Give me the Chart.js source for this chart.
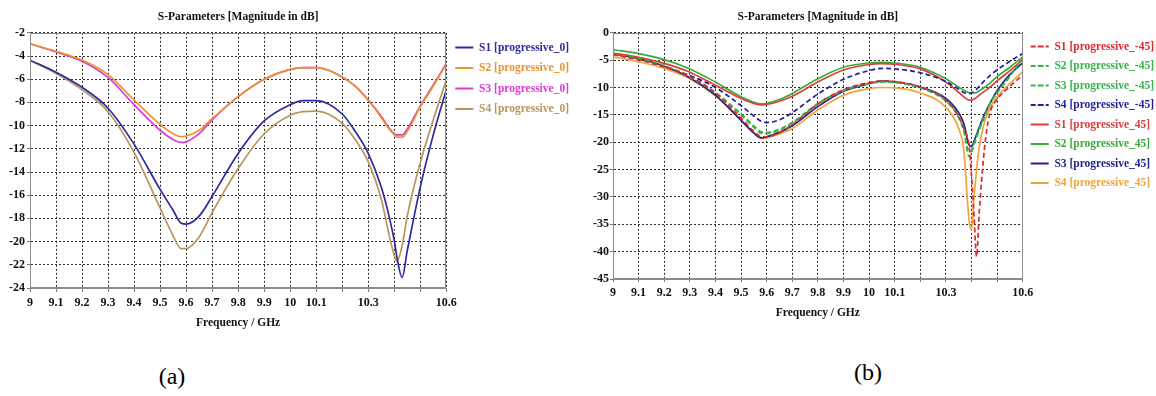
<!DOCTYPE html>
<html>
<head>
<meta charset="utf-8">
<script src="https://cdn.jsdelivr.net/npm/chart.js@4.4.0/dist/chart.umd.min.js"></script>
<style>
  body { margin: 0; width: 1156px; height: 396px; overflow: hidden; background: #fff; position: relative; }
  canvas { position: absolute; top: 0; }
  #chartA { left: 0; }
  #chartB { left: 580px; }
  .cap { position: absolute; font-family: "Liberation Serif", "Times New Roman", serif; font-size: 24px; color: #000; transform: translate(-50%, -50%); }
</style>
</head>
<body>
<canvas id="chartA" width="580" height="340"></canvas>
<canvas id="chartB" width="584" height="329"></canvas>
<div class="cap" style="left:172px; top:376px;">(a)</div>
<div class="cap" style="left:868px; top:372px;">(b)</div>
<script>
// ---- data (a): progressive_0 ----
const freqA = [9, 9.1, 9.2, 9.3, 9.4, 9.5, 9.55, 9.58, 9.6, 9.65, 9.7, 9.8, 9.9, 10, 10.05, 10.1, 10.2, 10.25, 10.3, 10.35, 10.38, 10.4, 10.41, 10.43, 10.45, 10.5, 10.55, 10.6];
const s1_p0 = [-4.36, -5.4, -6.7, -8.5, -11.6, -15.5, -17.3, -18.4, -18.5, -17.8, -16.1, -12.4, -9.6, -8.2, -7.85, -7.85, -9.0, -10.5, -12.4, -15.3, -17.8, -19.9, -21.3, -23.1, -20.8, -15.3, -10.8, -6.9];
const s2_p0 = [-2.95, -3.6, -4.35, -5.6, -7.8, -9.9, -10.7, -10.95, -10.9, -10.4, -9.4, -7.5, -6.0, -5.15, -5.0, -5.0, -5.8, -6.6, -7.8, -9.3, -10.3, -10.8, -11.0, -11.0, -10.5, -8.4, -6.6, -4.7];
const s3_p0 = [-2.95, -3.65, -4.45, -5.85, -8.2, -10.4, -11.2, -11.45, -11.4, -10.7, -9.5, -7.5, -6.0, -5.15, -5.0, -5.0, -5.8, -6.6, -7.8, -9.2, -10.2, -10.7, -10.8, -10.8, -10.3, -8.3, -6.5, -4.65];
const s4_p0 = [-4.4, -5.5, -6.9, -8.8, -12.3, -17.1, -19.5, -20.6, -20.6, -19.6, -17.5, -13.7, -10.7, -9.1, -8.8, -8.75, -9.8, -11.2, -13.1, -16.3, -19.4, -21.2, -21.7, -20.4, -17.8, -13.2, -9.5, -6.1];

// ---- data (b): progressive_-45 / progressive_45 ----
const freqB = [9, 9.1, 9.2, 9.3, 9.4, 9.5, 9.55, 9.58, 9.6, 9.65, 9.7, 9.8, 9.9, 10, 10.05, 10.1, 10.2, 10.3, 10.35, 10.37, 10.39, 10.4, 10.41, 10.42, 10.43, 10.45, 10.47, 10.5, 10.55, 10.6];
const s1_m45 = [-4.0, -4.9, -6.2, -8.0, -11.0, -15.6, -18.0, -19.0, -19.0, -18.2, -16.8, -13.0, -10.4, -9.1, -8.8, -8.9, -9.9, -12.3, -15.3, -17.5, -20.5, -26.0, -33.5, -40.9, -33.0, -21.5, -15.0, -12.2, -9.8, -7.7];
const s2_m45 = [-3.9, -4.7, -6.0, -8.0, -10.9, -14.8, -17.0, -18.1, -18.2, -17.6, -16.4, -12.9, -10.5, -9.2, -8.9, -9.0, -10.0, -12.4, -15.5, -18.0, -22.6, -22.0, -20.5, -19.2, -17.8, -15.5, -13.2, -11.0, -8.0, -4.6];
const s3_m45 = [-3.95, -4.75, -6.05, -8.1, -11.0, -15.0, -17.3, -18.4, -18.4, -17.8, -16.6, -13.1, -10.6, -9.3, -9.0, -9.1, -10.1, -12.5, -15.4, -17.8, -21.8, -21.5, -20.2, -19.0, -17.6, -15.3, -13.1, -10.9, -7.9, -4.7];
const s4_m45 = [-3.95, -4.9, -6.2, -7.8, -10.0, -13.3, -15.2, -16.2, -16.4, -15.9, -14.6, -11.2, -8.5, -6.9, -6.5, -6.6, -7.3, -8.9, -10.3, -10.9, -11.1, -11.0, -10.7, -10.3, -9.8, -8.8, -7.9, -6.8, -5.2, -3.8];
const s1_p45 = [-3.7, -4.5, -5.6, -7.2, -9.6, -12.0, -12.9, -13.2, -13.1, -12.5, -11.6, -9.0, -6.8, -5.8, -5.65, -5.75, -6.6, -9.0, -10.9, -11.7, -12.3, -12.3, -12.1, -11.8, -11.4, -10.7, -10.0, -8.8, -6.9, -4.9];
const s2_p45 = [-3.1, -3.8, -4.9, -6.6, -9.0, -11.7, -12.7, -13.0, -12.9, -12.2, -11.1, -8.4, -6.3, -5.5, -5.4, -5.5, -6.3, -8.4, -9.9, -10.5, -10.9, -11.0, -11.0, -10.9, -10.6, -10.0, -9.3, -8.0, -6.3, -4.4];
const s3_p45 = [-3.8, -4.7, -6.1, -8.2, -11.4, -16.0, -18.3, -19.2, -19.0, -18.2, -17.0, -13.5, -10.7, -9.3, -8.85, -8.95, -9.9, -12.0, -14.6, -16.6, -20.5, -20.8, -19.8, -18.6, -17.3, -15.0, -13.1, -10.6, -7.6, -5.5];
const s4_p45 = [-4.4, -5.3, -6.5, -8.4, -11.5, -16.0, -18.4, -19.3, -19.2, -18.5, -17.5, -14.1, -11.4, -10.2, -10.0, -10.05, -11.0, -13.6, -17.5, -21.5, -34.0, -36.0, -30.0, -25.0, -21.0, -16.5, -14.0, -11.7, -9.3, -7.1];

// tick labels (blank where the original skips the label)
const xTickLabels = ['9', '9.1', '9.2', '9.3', '9.4', '9.5', '9.6', '9.7', '9.8', '9.9', '10', '10.1', '', '10.3', '', '', '10.6'];

const SERIF = '"Liberation Serif", "Times New Roman", serif';

const pts = (xs, ys) => xs.map((x, i) => ({ x: x, y: ys[i] }));

function line(label, xs, ys, color, dash) {
  return {
    label: label,
    data: pts(xs, ys),
    borderColor: color,
    backgroundColor: color,
    borderWidth: 1.7,
    borderDash: dash || [],
    pointRadius: 0,
    cubicInterpolationMode: 'monotone',
  };
}

// grey frame round the plot area
const framePlugin = {
  id: 'frame',
  afterDatasetsDraw(chart) {
    const a = chart.chartArea;
    const ctx = chart.ctx;
    ctx.save();
    ctx.strokeStyle = '#8c8c8c';
    ctx.lineWidth = 1;
    ctx.strokeRect(Math.round(a.left) + 0.5, Math.round(a.top) + 0.5, Math.round(a.width) - 1, Math.round(a.height) - 1);
    ctx.restore();
  }
};

function makeChart(id, datasets, opt) {
  return new Chart(document.getElementById(id), {
    type: 'line',
    data: { datasets: datasets },
    plugins: [framePlugin],
    options: {
      responsive: false,
      animation: false,
      layout: { padding: { left: 0, right: opt.padRight, top: 0, bottom: 0 } },
      plugins: {
        title: {
          display: true,
          fullSize: false,
          text: 'S-Parameters [Magnitude in dB]',
          color: '#111',
          font: { family: SERIF, size: 11.5, weight: 'bold' },
          padding: { top: 10, bottom: 9 },
        },
        legend: {
          position: 'right',
          align: 'start',
          fullSize: false,
          labels: {
            boxWidth: 18,
            boxHeight: 0,
            padding: opt.legendPad,
            font: { family: SERIF, size: 11.5, weight: 'bold' },
            generateLabels(chart) {
              const items = Chart.defaults.plugins.legend.labels.generateLabels(chart);
              items.forEach((it, i) => {
                it.fontColor = chart.data.datasets[i].borderColor;
                it.lineWidth = 2;
              });
              return items;
            }
          }
        },
        tooltip: { enabled: false },
      },
      scales: {
        x: {
          type: 'linear',
          min: 9,
          max: 10.6,
          afterFit(s) { s.height = opt.xAxisH; },
          ticks: {
            stepSize: 0.1,
            autoSkip: false,
            maxRotation: 0,
            padding: 4,
            color: '#111',
            font: { family: SERIF, size: 12, weight: 'bold' },
            callback: (v, i) => xTickLabels[i] ?? '',
          },
          grid: { color: '#2a2a2a', lineWidth: 1, tickLength: opt.xTick, tickColor: '#777', tickBorderDash: [] },
          border: { color: '#8c8c8c', dash: [2, 2] },
          title: {
            display: true,
            text: 'Frequency / GHz',
            color: '#111',
            font: { family: SERIF, size: 11.5, weight: 'bold' },
            padding: { top: 0, bottom: opt.xTitlePad },
          },
        },
        y: {
          min: opt.yMin,
          max: opt.yMax,
          afterFit(s) { s.width = opt.yAxisW; },
          ticks: {
            stepSize: opt.yStep,
            padding: opt.yPad,
            color: '#111',
            font: { family: SERIF, size: 12, weight: 'bold' },
          },
          grid: { color: '#2a2a2a', lineWidth: 1, tickLength: 3, tickColor: '#777', tickBorderDash: [] },
          border: { color: '#8c8c8c', dash: [2, 2] },
        },
      },
    },
  });
}

makeChart('chartA', [
  line('S1 [progressive_0]', freqA, s1_p0, '#2b2b9e'),
  line('S2 [progressive_0]', freqA, s2_p0, '#e8952e'),
  line('S3 [progressive_0]', freqA, s3_p0, '#df38d6'),
  line('S4 [progressive_0]', freqA, s4_p0, '#b8955e'),
], { padRight: 1, legendPad: 9, xAxisH: 52, xTick: 4, xTitlePad: 10, yMin: -24, yMax: -2, yStep: 2, yAxisW: 30, yPad: 2 });

makeChart('chartB', [
  line('S1 [progressive_-45]', freqB, s1_m45, '#e0262e', [5, 3]),
  line('S2 [progressive_-45]', freqB, s2_m45, '#36b34a', [5, 3]),
  line('S3 [progressive_-45]', freqB, s3_m45, '#36b34a', [5, 3]),
  line('S4 [progressive_-45]', freqB, s4_m45, '#1f1fa0', [5, 3]),
  line('S1 [progressive_45]', freqB, s1_p45, '#d9403a'),
  line('S2 [progressive_45]', freqB, s2_p45, '#3aaa3a'),
  line('S3 [progressive_45]', freqB, s3_p45, '#22228e'),
  line('S4 [progressive_45]', freqB, s4_p45, '#f0a43a'),
], { padRight: 0, legendPad: 8, xAxisH: 50, xTick: 3, xTitlePad: 9, yMin: -45, yMax: 0, yStep: 5, yAxisW: 33, yPad: 1 });
</script>
</body>
</html>
